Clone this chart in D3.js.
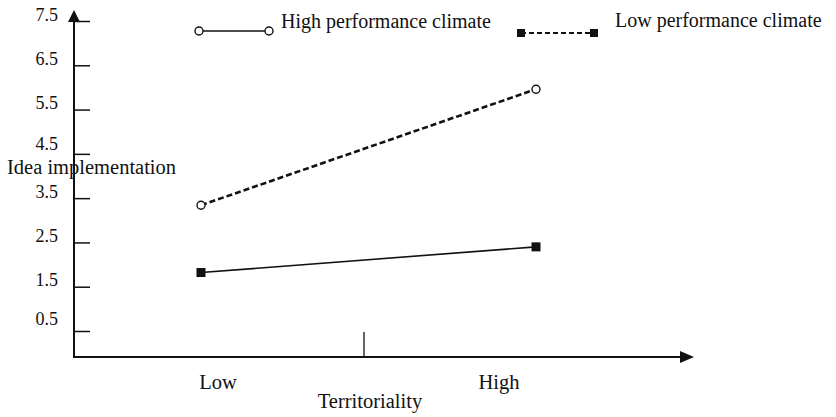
<!DOCTYPE html>
<html>
<head>
<meta charset="utf-8">
<script src="https://cdn.jsdelivr.net/npm/d3@7"></script>
<style>
  body { margin: 0; background: #fff; }
  text { font-family: "Liberation Serif", "Times New Roman", serif; fill: #111; }
</style>
</head>
<body>
<div id="graph"></div>
<script>
// data
const categories = ["Low", "High"];
const yTicks = [0.5, 1.5, 2.5, 3.5, 4.5, 5.5, 6.5, 7.5];
const highClimate = [3.34, 5.96];   // dashed, open circles
const lowClimate = [1.82, 2.40];    // solid, filled squares
const legendLabels = ["High performance climate", "Low performance climate"];

const width = 836, height = 417;

const svg = d3.select("#graph").append("svg")
  .attr("width", width)
  .attr("height", height);

const y = d3.scaleLinear().domain([0.5, 7.5]).range([331, 21]);
const x = d3.scalePoint().domain(categories).range([201, 536]);
const xLabel = d3.scalePoint().domain(categories).range([218, 499]);

const axisX0 = 74, axisY0 = 357;

// y axis with inward ticks
const yAxis = d3.axisLeft(y)
  .tickValues(yTicks)
  .tickFormat(d3.format(".1f"))
  .tickSize(-16)
  .tickPadding(16);

const gy = svg.append("g")
  .attr("transform", "translate(" + axisX0 + ",0)")
  .call(yAxis);
gy.select(".domain").remove();
gy.selectAll(".tick line").attr("stroke", "#111").attr("stroke-width", 1.5);
// the original labels sit a little unevenly above their ticks
gy.selectAll(".tick text")
  .attr("dy", d => d === 4.5 ? "-0.25em" : d === 0.5 ? "-0.35em" : "-0.05em")
  .style("font-size", "18px")
  .style("font-family", "Liberation Serif");

// axis lines with arrow heads
svg.append("line")
  .attr("x1", axisX0).attr("y1", axisY0)
  .attr("x2", axisX0).attr("y2", 20)
  .attr("stroke", "#111").attr("stroke-width", 2);
svg.append("path")
  .attr("d", d3.line()([[axisX0, 10], [axisX0 - 6, 22], [axisX0 + 6, 22]]) + "Z")
  .attr("fill", "#111");

svg.append("line")
  .attr("x1", axisX0 - 1).attr("y1", axisY0)
  .attr("x2", 682).attr("y2", axisY0)
  .attr("stroke", "#111").attr("stroke-width", 2);
svg.append("path")
  .attr("d", d3.line()([[694, axisY0], [680, axisY0 - 6], [680, axisY0 + 6]]) + "Z")
  .attr("fill", "#111");

// middle tick on x axis
svg.append("line")
  .attr("x1", 364).attr("y1", axisY0)
  .attr("x2", 364).attr("y2", 332)
  .attr("stroke", "#111").attr("stroke-width", 1.3);

// category labels
svg.selectAll(".xlab")
  .data(categories)
  .enter().append("text")
  .attr("class", "xlab")
  .attr("x", d => xLabel(d))
  .attr("y", 389)
  .attr("text-anchor", "middle")
  .style("font-size", "20.5px")
  .text(d => d);

svg.append("text")
  .attr("x", 370)
  .attr("y", 408)
  .attr("text-anchor", "middle")
  .style("font-size", "20.5px")
  .text("Territoriality");

svg.append("text")
  .attr("x", 7)
  .attr("y", 174)
  .style("font-size", "20.5px")
  .text("Idea implementation");

// series lines
const line = d3.line()
  .x((d, i) => x(categories[i]))
  .y(d => y(d));

svg.append("path")
  .datum(highClimate)
  .attr("d", line)
  .attr("fill", "none")
  .attr("stroke", "#111")
  .attr("stroke-width", 2.6)
  .attr("stroke-dasharray", "6,3");

svg.append("path")
  .datum(lowClimate)
  .attr("d", line)
  .attr("fill", "none")
  .attr("stroke", "#111")
  .attr("stroke-width", 1.6);

svg.selectAll(".circ")
  .data(highClimate)
  .enter().append("circle")
  .attr("class", "circ")
  .attr("cx", (d, i) => x(categories[i]))
  .attr("cy", d => y(d))
  .attr("r", 4)
  .attr("fill", "#fff")
  .attr("stroke", "#111")
  .attr("stroke-width", 1.4);

svg.selectAll(".sq")
  .data(lowClimate)
  .enter().append("rect")
  .attr("class", "sq")
  .attr("x", (d, i) => x(categories[i]) - 4.5)
  .attr("y", d => y(d) - 4.5)
  .attr("width", 9)
  .attr("height", 9)
  .attr("fill", "#111");

// legend
const leg1 = svg.append("g");
leg1.append("line")
  .attr("x1", 199).attr("y1", 31).attr("x2", 269).attr("y2", 31)
  .attr("stroke", "#111").attr("stroke-width", 1.6);
leg1.selectAll("circle")
  .data([199, 269])
  .enter().append("circle")
  .attr("cx", d => d).attr("cy", 31).attr("r", 4)
  .attr("fill", "#fff").attr("stroke", "#111").attr("stroke-width", 1.4);
leg1.append("text")
  .attr("x", 281).attr("y", 28)
  .style("font-size", "20px")
  .text(legendLabels[0]);

const leg2 = svg.append("g");
leg2.append("line")
  .attr("x1", 521).attr("y1", 33).attr("x2", 593).attr("y2", 33)
  .attr("stroke", "#111").attr("stroke-width", 2)
  .attr("stroke-dasharray", "5,3");
leg2.selectAll("rect")
  .data([521, 594])
  .enter().append("rect")
  .attr("x", d => d - 4).attr("y", 29).attr("width", 8).attr("height", 8)
  .attr("fill", "#111");
leg2.append("text")
  .attr("x", 615).attr("y", 27)
  .style("font-size", "20px")
  .text(legendLabels[1]);
</script>
</body>
</html>
